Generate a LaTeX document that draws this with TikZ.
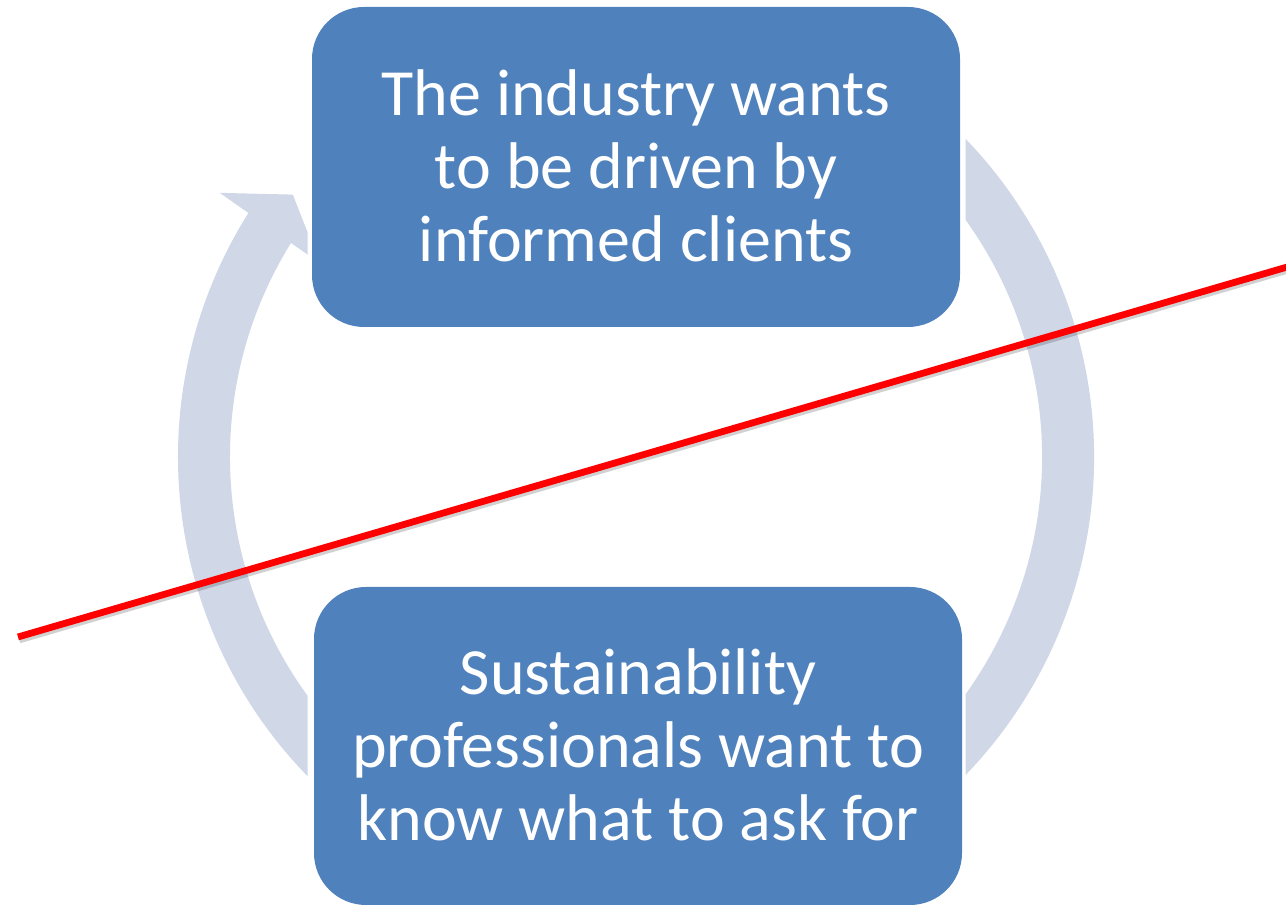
\documentclass[tikz,border=0pt]{standalone}
\usepackage{fontspec}
\setmainfont{Carlito}
\definecolor{boxblue}{HTML}{4F81BD}
\definecolor{ringcol}{HTML}{D0D8E8}
\tikzset{
  x=1pt,y=1pt,
  bluebox/.style={fill=boxblue, draw=none, rounded corners=52pt, inner sep=0pt},
  boxtext/.style={text=white, align=center, inner sep=0pt, font=\fontsize{66}{73}\selectfont},
  ringfill/.style={fill=ringcol, draw=none},
  redline/.style={draw=red, line width=6.8pt},
  redshadow/.style={draw=black, opacity=0.18, line width=6.5pt}
}
\begin{document}
\begin{tikzpicture}
\useasboundingbox (0,0) rectangle (1286,907);
\clip (0,0) rectangle (1286,907);
% ring, left part (shaft + arrowhead)
\begin{scope}
  \clip (0,0) rectangle (307.5,907);
  \begin{scope}[shift={(636,450)}]
    \fill[ringfill] (147.0:458) arc[start angle=147.0, end angle=230, radius=458]
      -- (230:406) arc[start angle=230, end angle=147.0, radius=406] -- cycle;
    \fill[ringfill] (147.6:493) -- (142.6:432) -- (148.5:371) -- cycle;
  \end{scope}
\end{scope}
% ring, right part
\begin{scope}
  \clip (965.5,0) rectangle (1286,907);
  \begin{scope}[shift={(636,450)}]
    \fill[ringfill] (70:458) arc[start angle=70, end angle=-70, radius=458]
      -- (-70:406) arc[start angle=-70, end angle=70, radius=406] -- cycle;
  \end{scope}
\end{scope}
% boxes
\node[bluebox, minimum width=648pt, minimum height=320pt] (top) at (636,740) {};
\node[bluebox, minimum width=648pt, minimum height=318pt] (bot) at (638,161) {};
\node[boxtext] (toptext) at ([yshift=1pt]top.center) {The industry wants\\to be driven by\\informed clients};
\node[boxtext] (bottext) at ([yshift=1pt]bot.center) {Sustainability\\professionals want to\\know what to ask for};
% red line
\coordinate (ra) at (18,270);
\coordinate (rb) at (1290,640.8);
\draw[redshadow] ([shift={(1.5,-3)}]ra) -- ([shift={(1.5,-3)}]rb);
\draw[redline] (ra) -- (rb);
\end{tikzpicture}
\end{document}
